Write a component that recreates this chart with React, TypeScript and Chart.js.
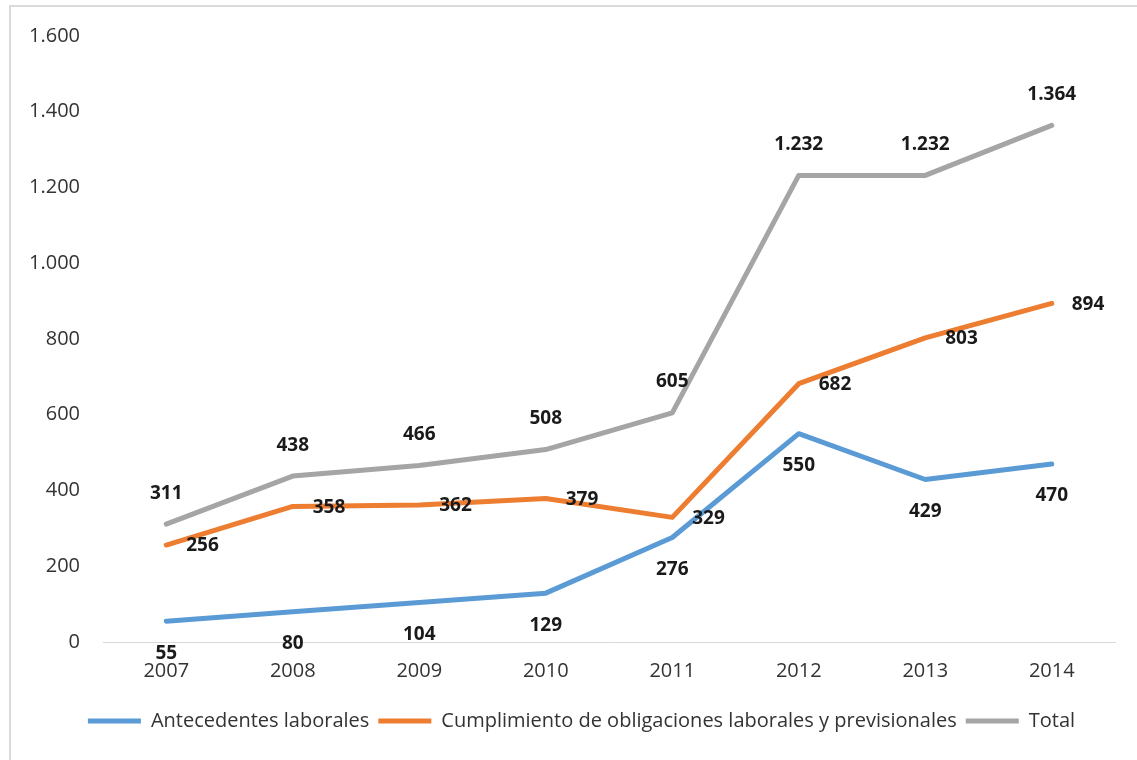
import React, { useEffect, useRef } from "react";
import { Chart, registerables } from "chart.js";

Chart.register(...registerables);

const years = ["2007", "2008", "2009", "2010", "2011", "2012", "2013", "2014"];
const antecedentes = [55, 80, 104, 129, 276, 550, 429, 470];
const cumplimiento = [256, 358, 362, 379, 329, 682, 803, 894];
const total = [311, 438, 466, 508, 605, 1232, 1232, 1364];
const seriesNames = [
  "Antecedentes laborales",
  "Cumplimiento de obligaciones laborales y previsionales",
  "Total",
];
const seriesColors = ["#5B9BD5", "#ED7D31", "#A5A5A5"];
// label placement per series: below / right / above
const labelPlacement = ["below", "right", "above"];

const FONT = "'Open Sans', 'Liberation Sans', sans-serif";

const fmt = (v: number) => String(v).replace(/\B(?=(\d{3})+(?!\d))/g, ".");

const dataLabelPlugin = {
  id: "dataLabels",
  afterDatasetsDraw(chart: any) {
    const ctx = chart.ctx;
    ctx.save();
    ctx.font = `bold 19px ${FONT}`;
    ctx.fillStyle = "#1a1a1a";
    chart.data.datasets.forEach((ds: any, i: number) => {
      const meta = chart.getDatasetMeta(i);
      const place = labelPlacement[i];
      meta.data.forEach((pt: any, j: number) => {
        const text = fmt(ds.data[j]);
        let x = pt.x;
        let y = pt.y;
        if (place === "below") {
          ctx.textAlign = "center";
          y += 32;
        } else if (place === "above") {
          ctx.textAlign = "center";
          y -= 31;
        } else {
          ctx.textAlign = "left";
          x += 20;
          y += 1;
        }
        ctx.textBaseline = "middle";
        ctx.fillText(text, x, y);
      });
    });
    ctx.restore();
  },
};

// shift the legend block slightly right, as in the reference
const legendShiftPlugin = {
  id: "legendShift",
  afterLayout(chart: any) {
    if (chart.legend) {
      chart.legend.left += 48;
    }
  },
};

export default function App() {
  const canvasRef = useRef<HTMLCanvasElement | null>(null);

  useEffect(() => {
    if (!canvasRef.current) return;
    const seriesData = [antecedentes, cumplimiento, total];
    const chart = new Chart(canvasRef.current, {
      type: "line",
      data: {
        labels: years,
        datasets: seriesData.map((d, i) => ({
          label: seriesNames[i],
          data: d,
          borderColor: seriesColors[i],
          backgroundColor: seriesColors[i],
          borderWidth: 5,
          borderCapStyle: "round" as const,
          borderJoinStyle: "round" as const,
          pointRadius: 0,
          pointHoverRadius: 0,
          pointStyle: "line" as const,
          tension: 0,
          fill: false,
        })),
      },
      options: {
        responsive: false,
        animation: false,
        devicePixelRatio: 1,
        layout: { padding: { top: 36, right: 22, left: 0, bottom: 19 } },
        plugins: {
          tooltip: { enabled: false },
          legend: {
            position: "bottom",
            labels: {
              usePointStyle: true,
              pointStyleWidth: 53,
              boxWidth: 53,
              boxHeight: 5,
              padding: 9,
              color: "#333333",
              font: { family: FONT, size: 20 },
            },
          },
        },
        scales: {
          x: {
            offset: true,
            grid: { display: false, drawTicks: false },
            border: { display: true, color: "#d9d9d9", width: 1 },
            ticks: {
              color: "#333333",
              font: { family: FONT, size: 20 },
              padding: 17,
              maxRotation: 0,
            },
            afterFit: (scale: any) => {
              scale.height = 60;
            },
          },
          y: {
            min: 0,
            max: 1600,
            grid: { display: false, drawTicks: false },
            border: { display: false },
            ticks: {
              stepSize: 200,
              color: "#333333",
              font: { family: FONT, size: 20 },
              padding: 23,
              callback: (v: any) => fmt(Number(v)),
            },
            afterFit: (scale: any) => {
              scale.width = 103;
            },
          },
        },
      },
      plugins: [dataLabelPlugin, legendShiftPlugin],
    });
    return () => chart.destroy();
  }, []);

  return (
    <div
      style={{
        position: "fixed",
        left: 0,
        top: 0,
        width: 1137,
        height: 760,
        overflow: "hidden",
        background: "#ffffff",
      }}
    >
      <div
        style={{
          position: "absolute",
          left: 9,
          top: 5,
          width: 1300,
          height: 900,
          border: "2px solid #d9d9d9",
        }}
      />
      <canvas
        ref={canvasRef}
        width={1137}
        height={760}
        style={{ position: "absolute", left: 0, top: 0, width: 1137, height: 760 }}
      />
    </div>
  );
}
